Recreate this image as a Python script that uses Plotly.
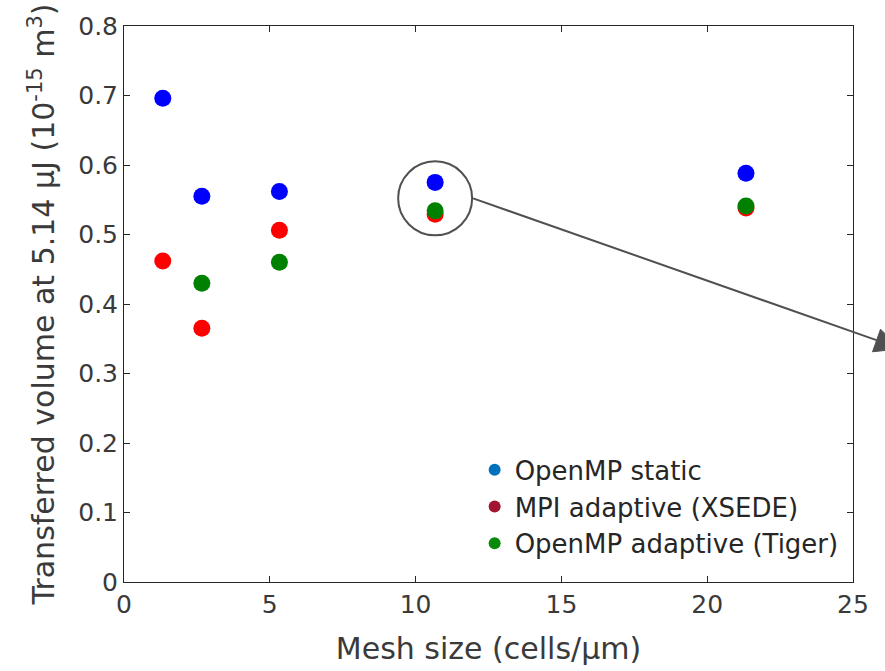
import plotly.graph_objects as go

mesh = [1.33, 2.67, 5.33, 10.67, 21.33]
openmp_static = [0.696, 0.555, 0.562, 0.575, 0.588]
mpi_adaptive = [0.462, 0.365, 0.506, 0.529, 0.538]
mesh_tiger = [2.67, 5.33, 10.67, 21.33]
openmp_adaptive = [0.430, 0.460, 0.534, 0.541]

series_names = ["OpenMP static", "MPI adaptive (XSEDE)", "OpenMP adaptive (Tiger)"]
data_colors = ["#0000FF", "#FF0000", "#008000"]
legend_colors = ["#0072BD", "#A2142F", "#0A8A0A"]

x_range = [0, 25]
y_range = [0, 0.8]
x_ticks = [0, 5, 10, 15, 20, 25]
y_ticks = [0, 0.1, 0.2, 0.3, 0.4, 0.5, 0.6, 0.7, 0.8]
y_labels = ["0", "0.1", "0.2", "0.3", "0.4", "0.5", "0.6", "0.7", "0.8"]

FONT = "DejaVu Sans"
AX = "#262626"
TXT = "#3a3a3a"
ANN = "#505050"

fig = go.Figure()
series = [(mesh, openmp_static), (mesh, mpi_adaptive), (mesh_tiger, openmp_adaptive)]
for (xs, ys), c in zip(series, data_colors):
    fig.add_trace(go.Scatter(x=xs, y=ys, mode="markers", showlegend=False,
                             marker=dict(color=c, size=17, line=dict(width=0)),
                             cliponaxis=False))
for name, c in zip(series_names, legend_colors):
    fig.add_trace(go.Scatter(x=[None], y=[None], mode="markers", name=name,
                             marker=dict(color=c, size=12)))

# annotation anchored at the highlighted group (x = 10.67)
ax_anchor = mesh[3]
ay_anchor = (openmp_static[3] + mpi_adaptive[3]) / 2
pix = dict(xref="x", yref="y", xsizemode="pixel", ysizemode="pixel",
           xanchor=ax_anchor, yanchor=ay_anchor)
# same anchor in paper units so the arrow may leave the plot area
pix_paper = dict(xref="paper", yref="paper", xsizemode="pixel", ysizemode="pixel",
                 xanchor=(ax_anchor - x_range[0]) / (x_range[1] - x_range[0]),
                 yanchor=(ay_anchor - y_range[0]) / (y_range[1] - y_range[0]))

fig.add_shape(type="circle", x0=-37, x1=37, y0=-37, y1=37,
              line=dict(color=ANN, width=2), **pix)
# arrow shaft
fig.add_shape(type="line", x0=38, y0=0, x1=442, y1=-142,
              line=dict(color=ANN, width=2), **pix_paper)
# arrow head
fig.add_shape(type="path", path="M 465 -150.5 L 437.4 -153.4 L 445.4 -130.8 Z",
              fillcolor=ANN, line=dict(color=ANN, width=1), **pix_paper)

axis_common = dict(showline=True, linecolor=AX, linewidth=1, mirror="ticks",
                   ticks="inside", ticklen=6, tickcolor=AX, showgrid=False,
                   zeroline=False, tickfont=dict(family=FONT, size=25, color=TXT))

fig.update_xaxes(range=x_range, tickvals=x_ticks, ticktext=[str(v) for v in x_ticks],
                 title=dict(text="Mesh size (cells/µm)", font=dict(family=FONT, size=30, color=TXT),
                            standoff=19),
                 **axis_common)
fig.update_yaxes(range=y_range, tickvals=y_ticks, ticktext=y_labels,
                 title=dict(text="Transferred volume at 5.14 µJ (10<sup>-15</sup> m<sup>3</sup>)",
                            font=dict(family=FONT, size=30, color=TXT), standoff=14),
                 **axis_common)

fig.update_layout(width=885, height=671, plot_bgcolor="white", paper_bgcolor="white",
                  margin=dict(l=124, r=32, t=24, b=87),
                  font=dict(family=FONT, color=TXT),
                  legend=dict(x=0.481, y=0.244, xanchor="left", yanchor="top",
                              bgcolor="rgba(0,0,0,0)", borderwidth=0,
                              font=dict(family=FONT, size=26, color="#262626"),
                              tracegroupgap=0))

fig.write_html("out.html")
